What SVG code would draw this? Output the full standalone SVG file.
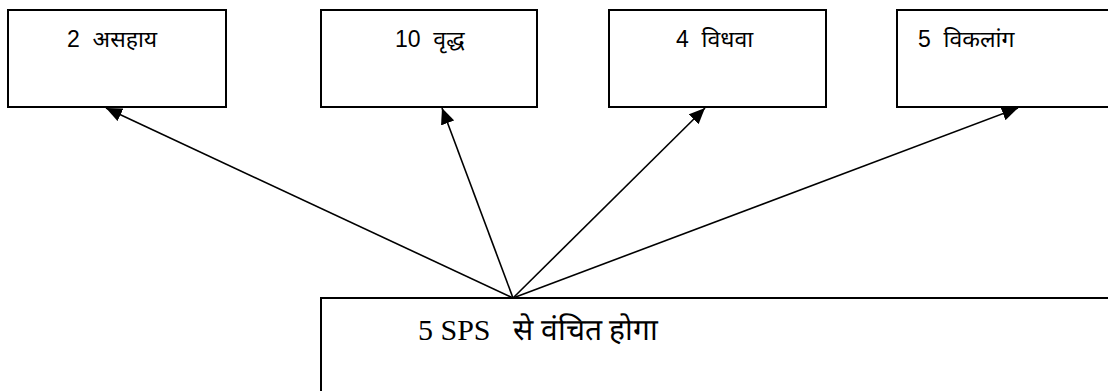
<svg xmlns="http://www.w3.org/2000/svg" width="1108" height="391" viewBox="0 0 1108 391">
<style>
.box{fill:#fff;stroke:#000;stroke-width:2}
.lbl{font-family:"Liberation Sans","Noto Sans",sans-serif;font-size:23px;fill:#000}
.lbl2{font-family:"Liberation Serif","Noto Serif",serif;font-size:30px;fill:#000}
.conn{stroke:#000;stroke-width:1.6;fill:none;marker-end:url(#ah)}
</style>
<defs>
<marker id="ah" markerUnits="userSpaceOnUse" markerWidth="18" markerHeight="14" refX="16" refY="7" orient="auto">
<path d="M0,0 L16,7 L0,14 Z" fill="#000"/>
</marker>
</defs>
<rect width="1108" height="391" fill="#fff"/>
<g id="n1"><rect class="box" x="8" y="10" width="218" height="97"/><text class="lbl" x="67" y="47" xml:space="preserve">2  असहाय</text></g>
<g id="n2"><rect class="box" x="321" y="10" width="216" height="97"/><text class="lbl" x="395" y="47" xml:space="preserve">10  वृद्ध</text></g>
<g id="n3"><rect class="box" x="609" y="10" width="217" height="97"/><text class="lbl" x="676" y="47" xml:space="preserve">4  विधवा</text></g>
<g id="n4"><rect class="box" x="897" y="10" width="300" height="97"/><text class="lbl" x="918" y="47" xml:space="preserve">5  विकलांग</text></g>
<g id="n5"><rect class="box" x="321" y="298" width="900" height="200"/><text class="lbl2" x="418" y="340" xml:space="preserve">5 SPS   से वंचित होगा</text></g>
<g id="connectors">
<line class="conn" x1="513" y1="298" x2="106" y2="108"/>
<line class="conn" x1="513" y1="298" x2="442" y2="108"/>
<line class="conn" x1="513" y1="298" x2="705" y2="108"/>
<line class="conn" x1="513" y1="298" x2="1018" y2="108"/>
</g>
</svg>
